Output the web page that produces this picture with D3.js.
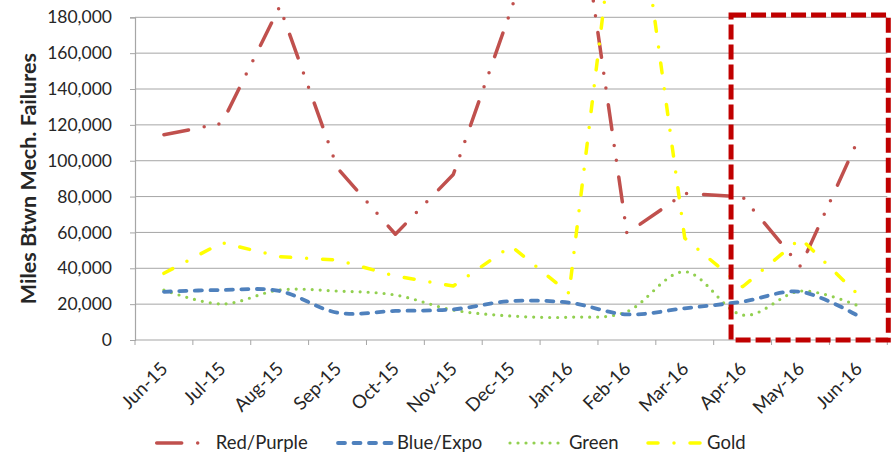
<!DOCTYPE html>
<html>
<head>
<meta charset="utf-8">
<script src="https://cdn.jsdelivr.net/npm/d3@7"></script>
<style>
  html, body { margin: 0; padding: 0; background: #fff; }
  svg { display: block; }
  text { font-family: Lato, "Open Sans", sans-serif; fill: #262626; }
</style>
</head>
<body>
<svg id="chart" width="893" height="455"></svg>
<script>
const months = ["Jun-15","Jul-15","Aug-15","Sep-15","Oct-15","Nov-15","Dec-15","Jan-16","Feb-16","Mar-16","Apr-16","May-16","Jun-16"];
const redPurple = [114500, 120800, 186000, 95800, 59000, 92300, 184300, 283000, 59500, 81800, 79800, 41000, 112000];
const blueExpo  = [26900, 27900, 27300, 15200, 16200, 17100, 21700, 20800, 14300, 17700, 21400, 26900, 13400];
const green     = [27900, 20100, 27900, 27300, 25100, 16700, 13400, 12700, 15800, 38100, 13900, 27300, 19000];
const gold      = [37200, 54300, 46500, 44600, 35700, 30100, 52400, 26000, 292000, 56800, 29700, 56700, 25100];
const yTicks = [0, 20000, 40000, 60000, 80000, 100000, 120000, 140000, 160000, 180000];
const seriesNames = ["Red/Purple", "Blue/Expo", "Green", "Gold"];
const highlight = ["Apr-16", "Jun-16"];

const svg = d3.select("#chart");
const pLeft = 135, pRight = 887.3, pTop = 17.3, pBottom = 340;

const x = d3.scaleBand().domain(months).range([pLeft, pRight]).paddingInner(0).paddingOuter(0);
const y = d3.scaleLinear().domain([0, 180000]).range([pBottom, pTop]);
const cx = d => x(d) + x.bandwidth() / 2;

// gridlines
svg.append("g").selectAll("line").data(yTicks.filter(t => t > 0)).join("line")
  .attr("x1", pLeft).attr("x2", pRight)
  .attr("y1", d => y(d)).attr("y2", d => y(d))
  .attr("stroke", "#a6a6a6").attr("stroke-width", 1);

// y axis
const yAxis = d3.axisLeft(y).tickValues(yTicks).tickSize(5).tickPadding(18)
  .tickFormat(d3.format(","));
const gy = svg.append("g").attr("transform", `translate(${pLeft},0)`).call(yAxis);
gy.select(".domain").attr("stroke", "#a6a6a6").attr("stroke-width", 1.2);
gy.selectAll(".tick line").attr("stroke", "#a6a6a6");
gy.selectAll(".tick text").attr("font-size", 17.5).attr("fill", "#262626")
  .style("font-family", "Lato, 'Open Sans', sans-serif");

// x axis
const gx = svg.append("g").attr("transform", `translate(0,${pBottom})`);
gx.append("line").attr("x1", pLeft).attr("x2", pRight).attr("y1", 0).attr("y2", 0)
  .attr("stroke", "#a6a6a6").attr("stroke-width", 1.2);
const bounds = months.map(m => x(m)).concat([pRight]);
gx.selectAll("line.tk").data(bounds).join("line").attr("class", "tk")
  .attr("x1", d => d).attr("x2", d => d).attr("y1", 0).attr("y2", 5)
  .attr("stroke", "#a6a6a6");
gx.selectAll("text").data(months).join("text")
  .attr("transform", d => `translate(${cx(d) + 5},${30}) rotate(-45)`)
  .attr("text-anchor", "end")
  .attr("font-size", 18.5)
  .text(d => d);

// y title
svg.append("text")
  .attr("transform", `translate(36,${(pTop + pBottom) / 2}) rotate(-90)`)
  .attr("text-anchor", "middle")
  .attr("font-size", 21.5).attr("font-weight", "bold").attr("fill", "#000")
  .text("Miles Btwn Mech. Failures");

// series
const styles = [
  { data: redPurple, color: "#c0504d", dash: "25,16,0,15,0,17", width: 3.5, curve: d3.curveLinear },
  { data: blueExpo,  color: "#4f81bd", dash: "7,8.5", width: 3.8, curve: d3.curveCatmullRom.alpha(0) },
  { data: green,     color: "#92d050", dash: "0,8", width: 3.2, curve: d3.curveCatmullRom.alpha(0) },
  { data: gold,      color: "#ffff00", dash: "10,16,0,16", width: 3.5, curve: d3.curveLinear }
];
const order = [2, 1, 0, 3];
order.forEach(i => {
  const s = styles[i];
  const line = d3.line().x((d, j) => cx(months[j])).y(d => y(d)).curve(s.curve);
  svg.append("path").datum(s.data)
    .attr("d", line)
    .attr("fill", "none")
    .attr("stroke", s.color)
    .attr("stroke-width", s.width)
    .attr("stroke-dasharray", s.dash)
    .attr("stroke-linecap", "round")
    .attr("stroke-linejoin", "round");
});

// highlight rectangle
const hx0 = x(highlight[0]) + x.bandwidth() * 0.3;
const hx1 = x(highlight[1]) + x.bandwidth() + 1;
svg.append("rect")
  .attr("x", hx0).attr("y", y(181300))
  .attr("width", hx1 - hx0).attr("height", y(0) - y(181300))
  .attr("fill", "none").attr("stroke", "#c00000").attr("stroke-width", 5)
  .attr("stroke-dasharray", "15,5");

// legend
const legX = [156.7, 338, 510, 648];
const legY = 443;
const lg = svg.append("g");
seriesNames.forEach((name, i) => {
  const s = styles[i];
  lg.append("line")
    .attr("x1", legX[i]).attr("x2", legX[i] + 54)
    .attr("y1", legY).attr("y2", legY)
    .attr("stroke", s.color).attr("stroke-width", s.width)
    .attr("stroke-dasharray", s.dash).attr("stroke-linecap", "round");
  lg.append("text")
    .attr("x", legX[i] + 59).attr("y", legY)
    .attr("dy", "0.35em")
    .attr("font-size", 18.5)
    .text(name);
});
</script>
</body>
</html>
